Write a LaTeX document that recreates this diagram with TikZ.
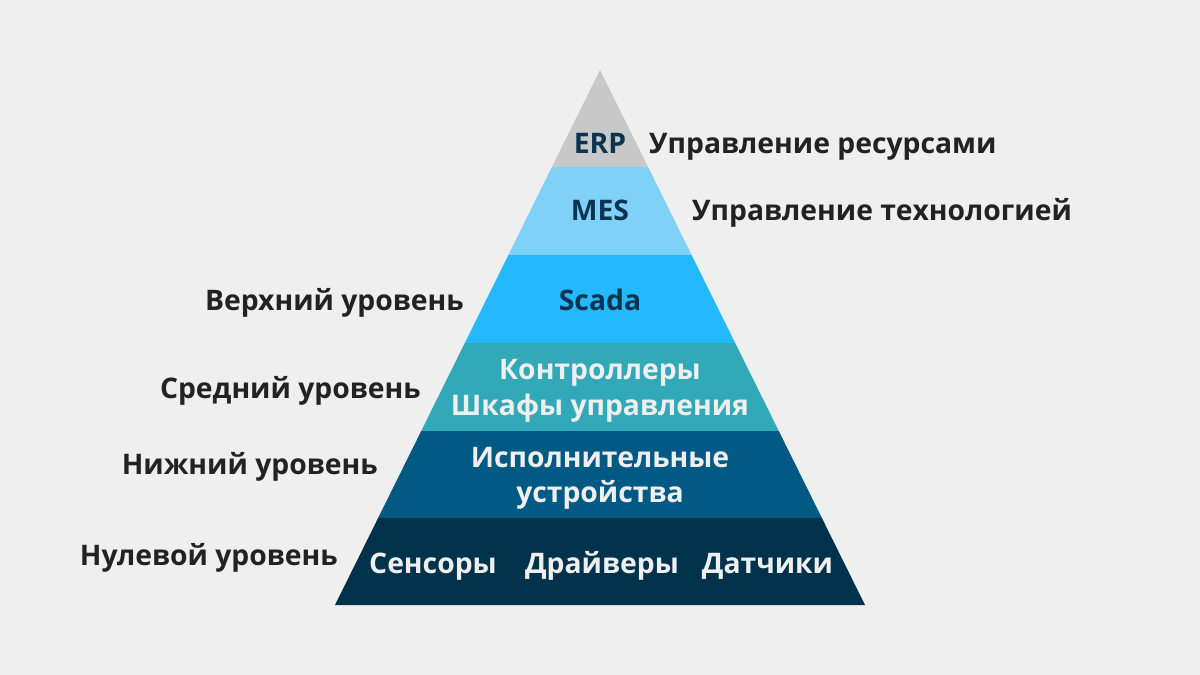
\documentclass[tikz,border=0pt]{standalone}
\usepackage{fontspec}
\setmainfont{Open Sans}
\usetikzlibrary{calc}
\definecolor{bg}{HTML}{EFEFEF}
\definecolor{cERP}{HTML}{C8C8C8}
\definecolor{cMES}{HTML}{7FD1F8}
\definecolor{cSCADA}{HTML}{24B9FD}
\definecolor{cCTRL}{HTML}{31A9B8}
\definecolor{cEXEC}{HTML}{025A84}
\definecolor{cZERO}{HTML}{01324C}
\definecolor{tdark}{HTML}{0C3450}
\definecolor{tlight}{HTML}{EFEFEF}
\definecolor{tside}{HTML}{222222}
\begin{document}
\begin{tikzpicture}[x=1pt,y=-1pt,
  lbl/.style={inner sep=0pt,font=\fontsize{28.3}{32}\selectfont\bfseries},
  inlbl/.style={lbl,anchor=base},
  darklbl/.style={inlbl,text=tdark},
  lightlbl/.style={inlbl,text=tlight},
  sidel/.style={lbl,text=tside,anchor=base east},
  sider/.style={lbl,text=tside,anchor=base west}]
\fill[bg] (0,0) rectangle (1200,675);
\useasboundingbox (0,0) rectangle (1200,675);
% pyramid bands
\fill[cERP] (600,70) -- (648.05,167) -- (551.95,167) -- cycle;
\fill[cMES] (551.95,167) -- (648.05,167) -- (691.6,255) -- (508.4,255) -- cycle;
\fill[cSCADA] (508.4,255) -- (691.6,255) -- (735.2,343) -- (464.8,343) -- cycle;
\fill[cCTRL] (464.8,343) -- (735.2,343) -- (778.8,431) -- (421.2,431) -- cycle;
\fill[cEXEC] (421.2,431) -- (778.8,431) -- (821.9,518) -- (378.1,518) -- cycle;
\fill[cZERO] (378.1,518) -- (821.9,518) -- (865,605) -- (335,605) -- cycle;
% inner labels
\node[darklbl] (erp) at (600,153) {ERP};
\node[darklbl] (mes) at (600,220) {MES};
\node[darklbl] (scada) at (600,310) {Scada};
\node[lightlbl] (ctrl1) at (600,379) {Контроллеры};
\node[lightlbl] (ctrl2) at (600,415) {Шкафы управления};
\node[lightlbl] (exec1) at (600,467) {Исполнительные};
\node[lightlbl] (exec2) at (600,502) {устройства};
\node[lightlbl] (sens) at (433,573) {Сенсоры};
\node[lightlbl] (drv) at (602,573) {Драйверы};
\node[lightlbl] (dat) at (767.5,573) {Датчики};
% side labels
\node[sider] (res) at (649,153) {Управление ресурсами};
\node[sider] (tech) at (692,220) {Управление технологией};
\node[sidel] (top) at (464,310) {Верхний уровень};
\node[sidel] (mid) at (421,398) {Средний уровень};
\node[sidel] (low) at (378,474) {Нижний уровень};
\node[sidel] (zero) at (338,565) {Нулевой уровень};
\end{tikzpicture}
\end{document}
